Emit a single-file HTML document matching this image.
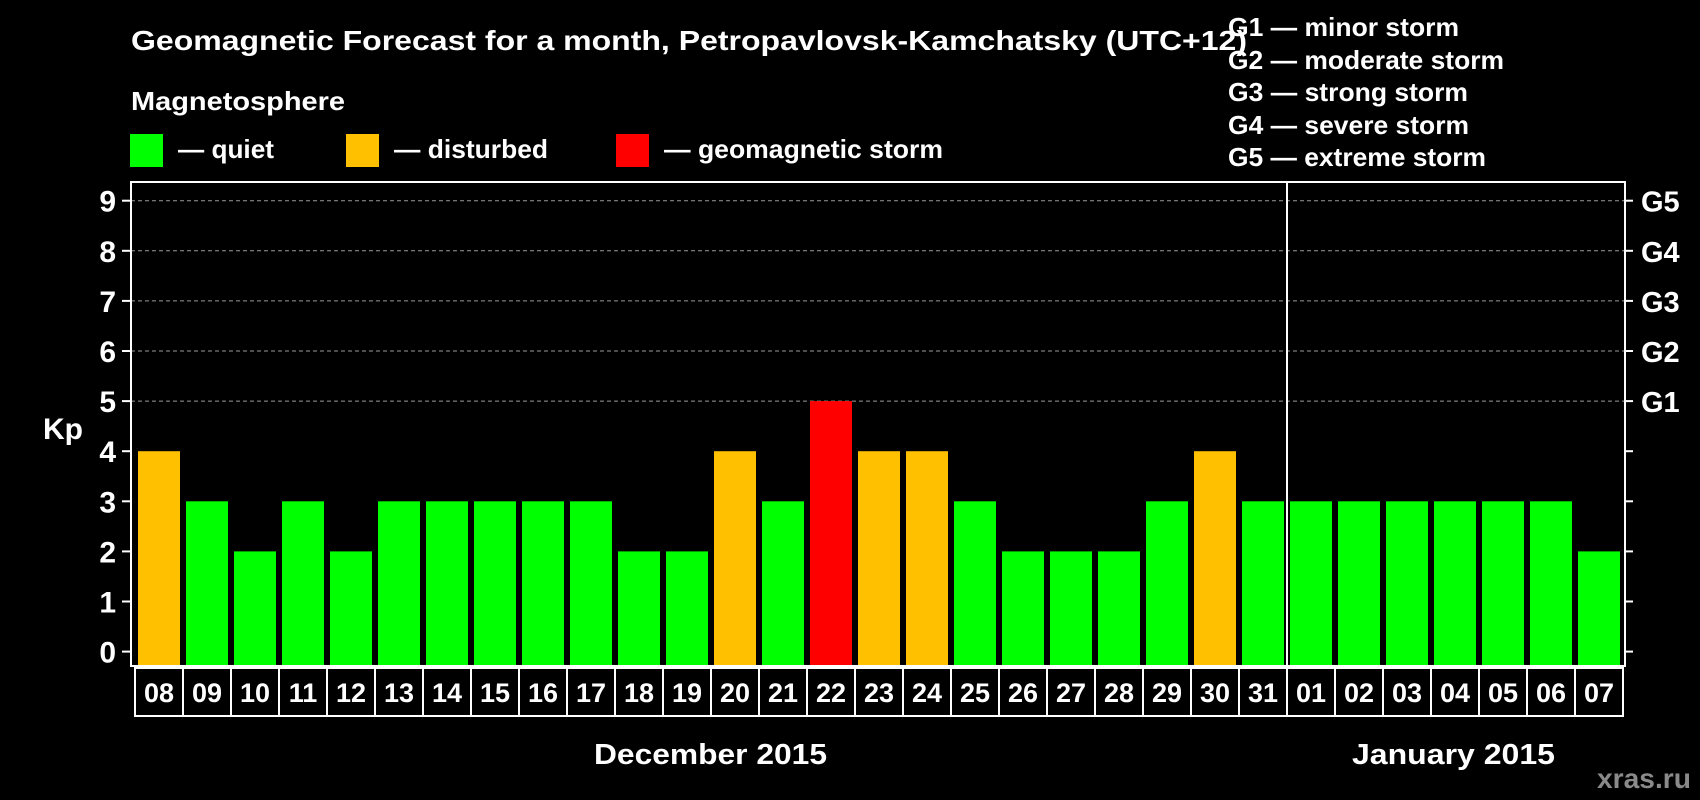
<!DOCTYPE html>
<html><head><meta charset="utf-8"><style>
html,body{margin:0;padding:0;background:#000;}
svg{display:block;font-family:"Liberation Sans",sans-serif;font-weight:bold;}
</style></head><body>
<svg id="chart" width="1700" height="800" viewBox="0 0 1700 800">
<rect x="0" y="0" width="1700" height="800" fill="#000"/>
<text x="131" y="50" fill="#fff" font-size="28" textLength="1116" lengthAdjust="spacingAndGlyphs">Geomagnetic Forecast for a month, Petropavlovsk-Kamchatsky (UTC+12)</text>
<text x="131" y="110" fill="#fff" font-size="26" textLength="214" lengthAdjust="spacingAndGlyphs">Magnetosphere</text>
<g>
<rect x="130" y="134" width="33" height="33" fill="#00ff00"/>
<text x="178" y="158" fill="#fff" font-size="26" textLength="96" lengthAdjust="spacingAndGlyphs">— quiet</text>
<rect x="346" y="134" width="33" height="33" fill="#ffc000"/>
<text x="394" y="158" fill="#fff" font-size="26" textLength="154" lengthAdjust="spacingAndGlyphs">— disturbed</text>
<rect x="616" y="134" width="33" height="33" fill="#ff0000"/>
<text x="664" y="158" fill="#fff" font-size="26" textLength="279" lengthAdjust="spacingAndGlyphs">— geomagnetic storm</text>
</g>
<g fill="#fff" font-size="26">
<text x="1228" y="36" textLength="231" lengthAdjust="spacingAndGlyphs">G1 — minor storm</text>
<text x="1228" y="69" textLength="276" lengthAdjust="spacingAndGlyphs">G2 — moderate storm</text>
<text x="1228" y="101" textLength="240" lengthAdjust="spacingAndGlyphs">G3 — strong storm</text>
<text x="1228" y="134" textLength="241" lengthAdjust="spacingAndGlyphs">G4 — severe storm</text>
<text x="1228" y="166" textLength="258" lengthAdjust="spacingAndGlyphs">G5 — extreme storm</text>
</g>
<g id="grid"></g>
<g id="bars"></g>
<rect x="131" y="182" width="1494" height="484" fill="none" stroke="#fff" stroke-width="2"/>
<line x1="1287" y1="182" x2="1287" y2="666" stroke="#fff" stroke-width="2"/>
<g id="axes"></g>
<text x="63" y="439" fill="#fff" font-size="30" text-anchor="middle">Kp</text>
<text x="594" y="764" fill="#fff" font-size="29" textLength="233" lengthAdjust="spacingAndGlyphs">December 2015</text>
<text x="1352" y="764" fill="#fff" font-size="29" textLength="203" lengthAdjust="spacingAndGlyphs">January 2015</text>
<text x="1597" y="788" fill="#8a8a8a" font-size="28" textLength="94" lengthAdjust="spacingAndGlyphs">xras.ru</text>
</svg>
<script>
const days = ["08","09","10","11","12","13","14","15","16","17","18","19","20","21","22","23","24","25","26","27","28","29","30","31","01","02","03","04","05","06","07"];
const kpValues = [4,3,2,3,2,3,3,3,3,3,2,2,4,3,5,4,4,3,2,2,2,3,4,3,3,3,3,3,3,3,2];
const yTicks = [0,1,2,3,4,5,6,7,8,9];
const gLabels = ["G1","G2","G3","G4","G5"];
const gLevels = [5,6,7,8,9];

const NS = "http://www.w3.org/2000/svg";
const y0 = 651.6, unit = 50.1, x0 = 135, pitch = 48;
const yScale = v => y0 - v * unit;
const xScale = i => x0 + i * pitch;
const colorOf = v => v >= 5 ? "#ff0000" : (v >= 4 ? "#ffc000" : "#00ff00");
function mk(tag, attrs, parent) {
  const e = document.createElementNS(NS, tag);
  for (const k in attrs) e.setAttribute(k, attrs[k]);
  parent.appendChild(e);
  return e;
}
const grid = document.getElementById("grid");
const bars = document.getElementById("bars");
const axes = document.getElementById("axes");
yTicks.forEach(v => {
  const y = yScale(v);
  if (v >= 5) {
    const g = mk("line", {x1:131, x2:1625, y1:y, y2:y, stroke:"#9a9a9a", "stroke-width":1, "stroke-dasharray":"4,3"}, grid);
    
    
  }
  const t1 = mk("line", {x1:122, x2:131, y1:y, y2:y, stroke:"#fff", "stroke-width":2}, axes);
  
  
  const t2 = mk("line", {x1:1625, x2:1633, y1:y, y2:y, stroke:"#fff", "stroke-width":2}, axes);
  
  
  const lb = mk("text", {x:116, y:y + 11, fill:"#fff", "font-size":30, "text-anchor":"end"}, axes);
  lb.textContent = v;
  
  
});
gLabels.forEach((g, i) => {
  const t = mk("text", {x:1641, y:yScale(gLevels[i]) + 11, fill:"#fff", "font-size":29}, axes);
  t.textContent = g;
  
  
});
kpValues.forEach((v, i) => {
  const x = xScale(i);
  const b = mk("rect", {x:x + 3, y:yScale(v), width:42, height:665 - yScale(v), fill:colorOf(v)}, bars);
  
  
  const box = mk("rect", {x:x, y:668, width:pitch, height:48, fill:"none", stroke:"#fff", "stroke-width":2}, axes);
  
  
  const t = mk("text", {x:x + pitch / 2, y:702, fill:"#fff", "font-size":27, "text-anchor":"middle"}, axes);
  t.textContent = days[i];
  
  
});
</script>
</body></html>
